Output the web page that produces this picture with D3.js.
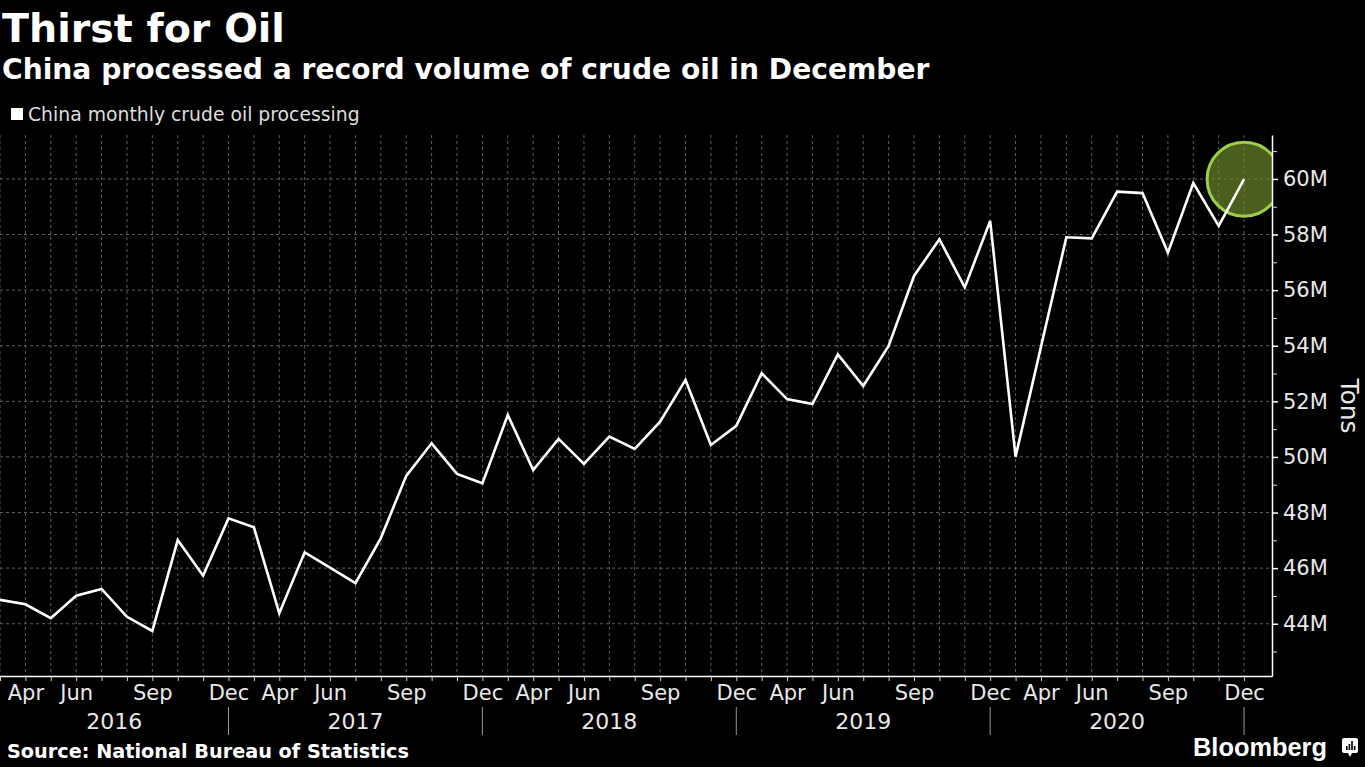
<!DOCTYPE html>
<html><head><meta charset="utf-8">
<script src="https://cdn.jsdelivr.net/npm/d3@7"></script>
<style>html,body{margin:0;padding:0;background:#000;overflow:hidden}</style>
</head><body><svg id="c" width="1365" height="767"></svg>
<script>
// ---------- DATA ----------
const years = [2016, 2017, 2018, 2019, 2020];
const months = ["Mar","Apr","May","Jun","Jul","Aug","Sep","Oct","Nov","Dec"];
const labeledMonths = ["Apr","Jun","Sep","Dec"];
// China monthly crude oil processing, million tons (Mar..Dec each year)
const processing2016 = [44.86, 44.70, 44.20, 45.01, 45.25, 44.25, 43.74, 47.01, 45.73, 47.79];
const processing2017 = [47.47, 44.38, 46.57, 46.02, 45.46, 47.08, 49.32, 50.49, 49.39, 49.05];
const processing2018 = [51.51, 49.53, 50.65, 49.75, 50.73, 50.29, 51.27, 52.77, 50.43, 51.12];
const processing2019 = [53.01, 52.08, 51.90, 53.69, 52.55, 53.99, 56.51, 57.83, 56.10, 58.49];
const processing2020 = [50.01, 53.96, 57.90, 57.86, 59.54, 59.49, 57.35, 59.85, 58.31, 59.99];
const yTickValues = [44, 46, 48, 50, 52, 54, 56, 58, 60];
const yMinorTickValues = [43, 45, 47, 49, 51, 53, 55, 57, 59, 61];
const yTickLabels = ["44M","46M","48M","50M","52M","54M","56M","58M","60M"];

const titleText = "Thirst for Oil";
const subtitleText = "China processed a record volume of crude oil in December";
const legendText = "China monthly crude oil processing";
const sourceText = "Source: National Bureau of Statistics";
const axisTitle = "Tons";

// ---------- BUILD ----------
const series = [processing2016, processing2017, processing2018, processing2019, processing2020];
const categories = [];
years.forEach(yr => months.forEach(m => categories.push({month: m, year: yr})));
const values = series.flat();

const FONT = "DejaVu Sans";
const svg = d3.select("#c");
svg.append("rect").attr("width", 1365).attr("height", 767).attr("fill", "#000");

const plot = {left: 0, top: 135, right: 1272, bottom: 676};
const x = d3.scaleLinear().domain([0, categories.length + 0.1]).range([plot.left, plot.right]);
const y = d3.scaleLinear().domain([42.12, 61.58]).range([plot.bottom, plot.top]);

function fit(sel, target) {
  const w = sel.node().getComputedTextLength();
  const fs = parseFloat(sel.attr("font-size"));
  sel.attr("font-size", fs * target / w);
}

// Titles
const t1 = svg.append("text").attr("x", 2).attr("y", 42).attr("fill", "#fff")
  .attr("font-family", FONT).attr("font-weight", "bold").attr("font-size", 40).text(titleText);
fit(t1, 283);
const t2 = svg.append("text").attr("x", 2).attr("y", 79).attr("fill", "#fff")
  .attr("font-family", FONT).attr("font-weight", "bold").attr("font-size", 26).text(subtitleText);
fit(t2, 928);

// Legend
svg.append("rect").attr("x", 11).attr("y", 108).attr("width", 12).attr("height", 12).attr("fill", "#fff");
const lg = svg.append("text").attr("x", 28).attr("y", 121).attr("fill", "#ddd")
  .attr("font-family", FONT).attr("font-size", 18).text(legendText);
fit(lg, 332);

// Grid
const grid = svg.append("g").attr("stroke", "#5e5e5e").attr("stroke-width", 1).attr("stroke-dasharray", "3,3");
grid.selectAll("line.h").data(yTickValues).join("line").attr("class", "h")
  .attr("x1", plot.left).attr("x2", plot.right).attr("y1", d => y(d)).attr("y2", d => y(d));
grid.selectAll("line.v").data(d3.range(categories.length)).join("line").attr("class", "v")
  .attr("x1", d => x(d)).attr("x2", d => x(d)).attr("y1", plot.top).attr("y2", plot.bottom);

// Highlight circle (clipped to plot)
svg.append("clipPath").attr("id", "clip").append("rect")
  .attr("x", plot.left).attr("y", 0).attr("width", plot.right - plot.left).attr("height", plot.bottom);
const lastI = values.length - 1;
svg.append("circle").attr("clip-path", "url(#clip)")
  .attr("cx", x(lastI)).attr("cy", y(values[lastI])).attr("r", 37)
  .attr("fill", "rgb(112,142,44)").attr("fill-opacity", 0.66)
  .attr("stroke", "#9dcf46").attr("stroke-width", 3);

// Line
svg.append("path").datum(values)
  .attr("fill", "none").attr("stroke", "#fff").attr("stroke-width", 2.6).attr("stroke-linejoin", "miter")
  .attr("d", d3.line().x((d, i) => x(i)).y(d => y(d)));

// X axis
const xAxis = d3.axisBottom(x).tickValues(d3.range(categories.length)).tickSize(5).tickSizeOuter(0).tickPadding(4)
  .tickFormat(i => labeledMonths.includes(categories[i].month) ? categories[i].month : "");
const gx = svg.append("g").attr("transform", `translate(0,${plot.bottom})`).call(xAxis);
gx.select(".domain").attr("stroke", "#fff").attr("stroke-width", 1.5);
gx.selectAll(".tick line").attr("stroke", "#ccc");
gx.selectAll(".tick text").attr("fill", "#e8e8e8").attr("font-family", FONT).attr("font-size", 21);

// Year labels and separators
const gy = svg.append("g");
years.forEach((yr, k) => {
  const decIdx = categories.findIndex(c => c.year === yr && c.month === "Dec");
  const start = k === 0 ? x(0) : x(categories.findIndex(c => c.year === years[k - 1] && c.month === "Dec"));
  const end = x(decIdx);
  gy.append("line").attr("x1", end).attr("x2", end).attr("y1", 707).attr("y2", 735)
    .attr("stroke", "#999").attr("stroke-width", 1);
  gy.append("text").attr("x", (start + end) / 2).attr("y", 729).attr("text-anchor", "middle")
    .attr("fill", "#e8e8e8").attr("font-family", FONT).attr("font-size", 22).text(yr);
});

// Y axis (right)
const yAxis = d3.axisRight(y).tickValues(yTickValues).tickSize(6).tickSizeOuter(0).tickPadding(5)
  .tickFormat((d, i) => yTickLabels[i]);
const gyA = svg.append("g").attr("transform", `translate(${plot.right},0)`).call(yAxis);
gyA.select(".domain").attr("stroke", "#fff").attr("stroke-width", 1.5);
gyA.selectAll(".tick line").attr("stroke", "#fff").attr("stroke-width", 1.5);
gyA.selectAll(".tick text").attr("fill", "#e8e8e8").attr("font-family", FONT).attr("font-size", 21);
const yMinor = d3.axisRight(y).tickValues(yMinorTickValues).tickSize(5).tickSizeOuter(0).tickFormat("");
const gyM = svg.append("g").attr("transform", `translate(${plot.right},0)`).call(yMinor);
gyM.select(".domain").remove();
gyM.selectAll(".tick line").attr("stroke", "#ddd");

svg.append("text").attr("transform", "translate(1341,406) rotate(90)").attr("text-anchor", "middle")
  .attr("fill", "#e8e8e8").attr("font-family", FONT).attr("font-size", 25).text(axisTitle);

// Footer
const src = svg.append("text").attr("x", 7).attr("y", 758).attr("fill", "#fff")
  .attr("font-family", FONT).attr("font-weight", "bold").attr("font-size", 18).text(sourceText);
fit(src, 402);
const bb = svg.append("text").attr("x", 1193).attr("y", 756).attr("fill", "#fff")
  .attr("font-family", "Liberation Sans").attr("font-weight", "bold").attr("font-size", 26).text("Bloomberg");
fit(bb, 134);
const logo = svg.append("g").attr("transform", "translate(1342,738)");
logo.append("rect").attr("width", 16).attr("height", 15).attr("rx", 2).attr("fill", "#fff");
logo.append("path").attr("d", "M6,15 L8,19 L10,15 Z").attr("fill", "#fff");
[[4,8,1.6,4],[6.6,6,1.6,6],[9.2,3,1.6,9],[11.8,8,1.6,4]].forEach(b =>
  logo.append("rect").attr("x", b[0]).attr("y", b[1]).attr("width", b[2]).attr("height", b[3]).attr("fill", "#000"));
</script></body></html>
